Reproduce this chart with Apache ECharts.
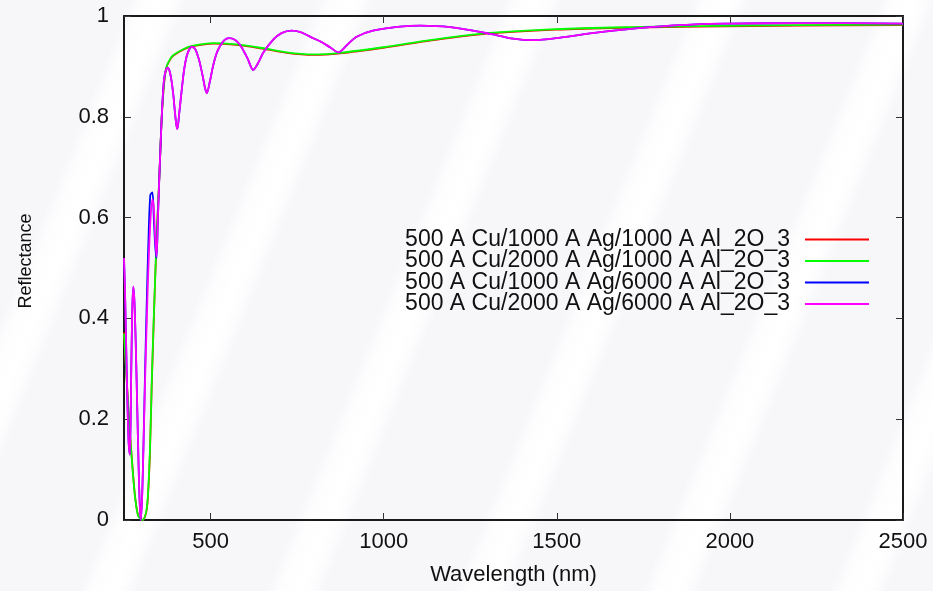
<!DOCTYPE html>
<html>
<head>
<meta charset="utf-8">
<script src="https://cdn.jsdelivr.net/npm/echarts@6/dist/echarts.min.js"></script>
<style>
  html, body { margin: 0; padding: 0; }
  #chart {
    width: 933px;
    height: 591px;
    background: repeating-linear-gradient(112deg, #f7f7fa 0px, #f7f7fa 120px, #fdfdfe 132px, #ffffff 150px, #fdfdfe 162px, #f7f7fa 174px);
  }
</style>
</head>
<body>
<div id="chart"></div>
<script>
// wavelengths (nm) for the 1000 A Al2O3 coatings
const thinNm = [250, 255, 260, 265, 270, 276, 282, 291, 304, 315, 320, 325, 330, 335, 340, 346, 352, 359, 366, 373,
  382, 392, 421, 450, 508, 566, 643, 720, 797, 874, 999, 1143, 1298, 1498, 1720, 1914, 2200, 2500];
const redR = [0.372, 0.312, 0.252, 0.192, 0.146, 0.093, 0.047, 0.009, 0.0, 0.018, 0.057, 0.135, 0.265, 0.375, 0.478, 0.588, 0.679, 0.799, 0.867, 0.899,
  0.912, 0.921, 0.933, 0.940, 0.945, 0.943, 0.936, 0.927, 0.923, 0.926, 0.937, 0.952, 0.965, 0.973, 0.977, 0.979, 0.981, 0.982];
const greenR = [0.37, 0.31, 0.25, 0.19, 0.143, 0.09, 0.045, 0.008, 0.0, 0.02, 0.06, 0.14, 0.27, 0.38, 0.48, 0.59, 0.68, 0.80, 0.868, 0.90,
  0.913, 0.922, 0.934, 0.941, 0.946, 0.944, 0.937, 0.928, 0.924, 0.927, 0.938, 0.953, 0.966, 0.974, 0.978, 0.980, 0.982, 0.983];

// wavelengths (nm) for the 6000 A Al2O3 coatings
const thickNm = [250, 253, 258, 263, 267, 271, 274, 277, 281, 286, 290, 294, 298, 302, 306, 311, 316, 320, 326, 332,
  336, 340, 344, 348, 352, 356, 359, 364, 369, 376, 382, 388, 393, 397, 401, 404, 410, 417, 424, 431,
  438, 445, 455, 465, 472, 479, 484, 489, 498, 507, 517, 527, 540, 553, 570, 585, 600, 608, 623, 640,
  652, 681, 705, 734, 760, 790, 816, 845, 869, 895, 922, 969, 1047, 1105, 1192, 1298, 1374, 1432, 1510, 1625,
  1769, 1914, 2000, 2200, 2500];
const blueR = [0.52, 0.45, 0.29, 0.16, 0.13, 0.30, 0.42, 0.463, 0.42, 0.29, 0.17, 0.06, 0.0, 0.04, 0.14, 0.30, 0.44, 0.54, 0.645, 0.650,
  0.60, 0.545, 0.52, 0.60, 0.68, 0.75, 0.80, 0.862, 0.888, 0.897, 0.89, 0.868, 0.84, 0.81, 0.785, 0.776, 0.81, 0.855, 0.895, 0.92,
  0.933, 0.939, 0.935, 0.917, 0.898, 0.875, 0.857, 0.847, 0.87, 0.90, 0.925, 0.94, 0.952, 0.956, 0.953, 0.943, 0.925, 0.914, 0.893, 0.910,
  0.927, 0.953, 0.966, 0.971, 0.968, 0.958, 0.950, 0.938, 0.928, 0.943, 0.959, 0.971, 0.979, 0.981, 0.978, 0.966, 0.955, 0.952, 0.957, 0.968,
  0.978, 0.984, 0.985, 0.986, 0.985];
const magentaR = [0.52, 0.45, 0.29, 0.16, 0.13, 0.30, 0.42, 0.463, 0.42, 0.29, 0.17, 0.06, 0.0, 0.04, 0.14, 0.28, 0.40, 0.49, 0.59, 0.636,
  0.62, 0.56, 0.523, 0.60, 0.68, 0.75, 0.80, 0.862, 0.888, 0.897, 0.89, 0.868, 0.84, 0.81, 0.785, 0.776, 0.81, 0.855, 0.895, 0.92,
  0.933, 0.939, 0.935, 0.917, 0.898, 0.875, 0.857, 0.847, 0.87, 0.90, 0.925, 0.94, 0.952, 0.956, 0.953, 0.943, 0.925, 0.914, 0.893, 0.910,
  0.927, 0.953, 0.966, 0.971, 0.968, 0.958, 0.950, 0.938, 0.928, 0.943, 0.959, 0.971, 0.979, 0.981, 0.978, 0.966, 0.955, 0.952, 0.957, 0.968,
  0.978, 0.984, 0.985, 0.986, 0.985];

const seriesNames = [
  "500 A Cu/1000 A Ag/1000 A Al_2O_3",
  "500 A Cu/2000 A Ag/1000 A Al_2O_3",
  "500 A Cu/1000 A Ag/6000 A Al_2O_3",
  "500 A Cu/2000 A Ag/6000 A Al_2O_3"
];
const xTicks = [500, 1000, 1500, 2000, 2500];

const font = "'Liberation Sans', Arial, sans-serif";

function pairs(xs, ys) {
  return xs.map((x, i) => [x, ys[i]]);
}

const myChart = echarts.init(document.getElementById("chart"));

function line(name, color, data) {
  return {
    name: name,
    type: "line",
    data: data,
    showSymbol: false,
    symbol: "none",
    smooth: 0.3,
    lineStyle: { color: color, width: 1.8 },
    itemStyle: { color: color },
    animation: false
  };
}

const boxLine = { show: true, onZero: false, lineStyle: { color: "#1a1a1a", width: 2 } };
const tick = { show: true, inside: true, length: 7, lineStyle: { color: "#333", width: 1 } };

let option = {
  backgroundColor: "transparent",
  animation: false,
  grid: { left: 124, right: 30, top: 16, bottom: 65 },
  legend: {
    orient: "vertical",
    right: 59,
    top: 223,
    align: "right",
    icon: "rect",
    itemWidth: 64,
    itemHeight: 2,
    itemGap: -1.5,
    textStyle: { fontFamily: font, fontSize: 23, color: "#111", lineHeight: 21, padding: [0, 10, 0, 0] },
    data: seriesNames
  },
  xAxis: [
    {
      type: "value",
      min: 250,
      max: 2500,
      name: "Wavelength (nm)",
      nameLocation: "middle",
      nameGap: 44,
      nameTextStyle: { fontFamily: font, fontSize: 22, color: "#111" },
      axisLine: boxLine,
      axisTick: Object.assign({}, tick, { customValues: xTicks }),
      axisLabel: {
        customValues: xTicks,
        formatter: (v) => String(v),
        fontFamily: font, fontSize: 22, color: "#111", margin: 11
      },
      splitLine: { show: false }
    },
    {
      type: "value",
      position: "top",
      min: 250,
      max: 2500,
      axisLine: boxLine,
      axisTick: Object.assign({}, tick, { customValues: xTicks }),
      axisLabel: { show: false },
      splitLine: { show: false }
    }
  ],
  yAxis: [
    {
      type: "value",
      min: 0,
      max: 1,
      interval: 0.2,
      name: "Reflectance",
      nameLocation: "middle",
      nameGap: 89,
      nameTextStyle: { fontFamily: font, fontSize: 18, color: "#111", padding: [0, 0, 0, 14] },
      axisLine: boxLine,
      axisTick: tick,
      axisLabel: { fontFamily: font, fontSize: 22, color: "#111", margin: 15 },
      splitLine: { show: false }
    },
    {
      type: "value",
      position: "right",
      min: 0,
      max: 1,
      interval: 0.2,
      axisLine: boxLine,
      axisTick: tick,
      axisLabel: { show: false },
      splitLine: { show: false }
    }
  ],
  series: [
    line(seriesNames[0], "#ff0000", pairs(thinNm, redR)),
    line(seriesNames[1], "#00ff00", pairs(thinNm, greenR)),
    line(seriesNames[2], "#0000ff", pairs(thickNm, blueR)),
    line(seriesNames[3], "#ff00ff", pairs(thickNm, magentaR))
  ]
};

myChart.setOption(option);
</script>
</body>
</html>
